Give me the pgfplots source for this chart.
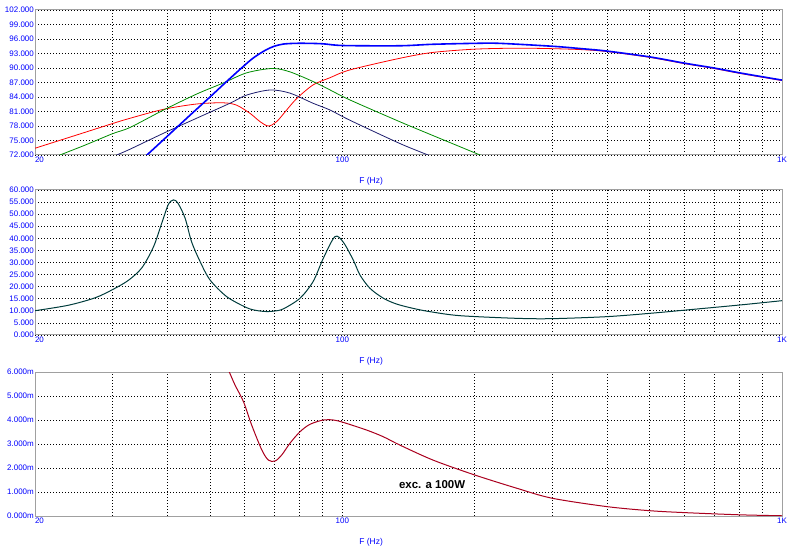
\documentclass[border=0pt]{standalone}
\usepackage{pgfplots}
\pgfplotsset{compat=1.18}
\usepackage{fontspec}
\setmainfont{Liberation Sans}
\definecolor{tickblue}{RGB}{0,0,255}
\definecolor{framegray}{RGB}{160,160,160}
\definecolor{spl}{RGB}{0,0,255}
\definecolor{sred}{RGB}{255,0,0}
\definecolor{sgreen}{RGB}{0,140,0}
\definecolor{snavy}{RGB}{30,30,110}
\definecolor{zcol}{RGB}{0,60,60}
\definecolor{xcol}{RGB}{170,0,30}
\pgfplotsset{
  every axis/.append style={
    scale only axis, width=747bp, anchor=south west,
    xmin=20, xmax=1000,
    xtick={20,100,1000},
    xticklabels={\makebox[0pt][l]{20},100,1K},
    minor xtick={30,40,50,60,70,80,90,200,300,400,500,600,700,800,900},
    xmajorgrids, xminorgrids, ymajorgrids,
    major tick length=0pt, minor tick length=0pt,
    grid style={black, line width=0.7bp, dash pattern=on 1bp off 2bp},
    minor grid style={black, line width=0.7bp, dash pattern=on 1bp off 2bp},
    axis line style={framegray, line width=1bp},
    tick label style={font=\fontsize{8}{9}\selectfont, text=tickblue},
    yticklabel style={inner sep=1bp},
    xticklabel style={inner sep=1.5bp},
    xlabel={F (Hz)},
    xlabel style={at={(axis description cs:0.45,0)}, anchor=center, yshift=-26bp, font=\fontsize{8.5}{10}\selectfont, text=tickblue},
  }
}
\begin{document}
\begin{tikzpicture}
\path[use as bounding box] (0,0) rectangle (800bp,548bp);
% Panel 1: SPL
\begin{semilogxaxis}[at={(35bp,393bp)}, height=145bp,
  ymin=72, ymax=102, ytick={72,75,...,102},
  yticklabels={72.000,75.000,78.000,81.000,84.000,87.000,90.000,93.000,96.000,99.000,102.000}]
\addplot[sred, line width=0.8bp, smooth] coordinates {
(20,73.4) (25,76.2) (30,78.5) (32.9,79.6) (39.2,81.45) (46.6,82.55) (53.6,82.8) (57.5,82.3)
(61.7,80.6) (65.0,78.9) (67.9,78.0) (70.9,78.9) (74.7,81.3) (78.8,83.7) (85.8,86.5)
(93.8,88.0) (104,89.6) (135,92.0) (160,93.2) (200,93.9) (250,94.1) (300,94.0) (350,93.8)
(400,93.4) (500,92.2) (600,90.9) (700,89.9) (800,88.9) (900,88.1) (1000,87.4)};
\addplot[sgreen, line width=0.8bp, smooth] coordinates {
(20,69.9) (22.8,72.0) (26,74.05) (30,76.4) (32.9,77.7) (39.2,81.3) (46.6,84.6) (53.6,86.9)
(60.6,89.0) (69.3,89.9) (76.0,89.2) (85.8,87.2) (93.8,85.45) (104,83.4) (135,78.9)
(160,76.1) (205.7,72.0) (230,70.2)};
\addplot[snavy, line width=0.8bp, smooth] coordinates {
(28,70.3) (30.7,72.0) (32.9,73.2) (39.2,76.5) (46.6,79.6) (55.5,82.7) (60.6,84.4)
(68.5,85.45) (76.0,84.8) (85.8,82.7) (93.8,81.3) (104,79.2) (135,74.4) (156.6,72.0) (170,70.6)};
\addplot[spl, line width=1.6bp, smooth] coordinates {
(33,68.9) (35.6,71.65) (40,75.9) (45,80.2) (50,84.0) (55,87.5) (60,90.6) (63,92.2)
(66.9,93.7) (70,94.5) (73.4,94.95) (78,95.1) (84,95.1) (90.5,95.0) (100.5,94.65) (135,94.6)
(160,94.9) (200,95.1) (228,95.1) (300,94.5) (350,94.0) (400,93.5) (500,92.3) (600,91.0)
(700,90.0) (800,89.0) (900,88.2) (1000,87.5)};
\end{semilogxaxis}
% Panel 2: impedance
\begin{semilogxaxis}[at={(35bp,213bp)}, height=145bp,
  ymin=0, ymax=60, ytick={0,5,...,60},
  yticklabels={0.000,5.000,10.000,15.000,20.000,25.000,30.000,35.000,40.000,45.000,50.000,55.000,60.000}]
\addplot[zcol, line width=1bp, smooth] coordinates {
(20,10.05) (23.8,12.3) (27.4,15.4) (30.1,18.9) (32.6,22.6) (35.0,27.8) (37.2,36.5)
(38.8,46.0) (40.2,54.0) (41.3,55.9) (42.3,54.5) (43.9,48.3) (45.4,38.6)
(47.5,30.3) (50.0,22.8) (54.6,15.85) (60.6,11.3) (64,10.1) (67.3,9.7) (70,9.9) (73.4,10.8)
(80.1,15.2) (85.8,22.1) (90.5,31.7) (96.2,40.7) (100.5,38.4) (105.9,31.0) (109.7,24.8)
(115.6,19.3) (124,15.2) (132.9,12.8) (145,11.0) (158.2,9.66) (185,8.0) (249,6.9) (300,6.76)
(400,7.6) (501,8.97) (602,10.3) (800,12.4) (1000,14.2)};
\end{semilogxaxis}
% Panel 3: excursion
\begin{semilogxaxis}[at={(35bp,32bp)}, height=144bp,
  ymin=0, ymax=6, ytick={0,1,...,6},
  yticklabels={0.000m,1.000m,2.000m,3.000m,4.000m,5.000m,6.000m}]
\addplot[xcol, line width=1bp, smooth] coordinates {
(53,6.8) (55.3,6.01) (57.0,5.46) (59.6,4.76) (62.2,3.79) (65.6,2.75) (67.9,2.33)
(70.3,2.29) (72.8,2.54) (76.0,3.03) (80.1,3.51) (84.4,3.82) (90.5,4.0) (95.4,4.0)
(100.5,3.90) (113.6,3.58) (124,3.30) (135,2.96) (160.8,2.33) (200,1.71) (250,1.15)
(300,0.74) (400,0.39) (501,0.22) (602,0.14) (800,0.05) (1000,0.01)};
\node[font=\bfseries\fontsize{11.5}{13}\selectfont, text=black] at (axis cs:160,1.29) {exc. a 100W};
\end{semilogxaxis}
\end{tikzpicture}
\end{document}
